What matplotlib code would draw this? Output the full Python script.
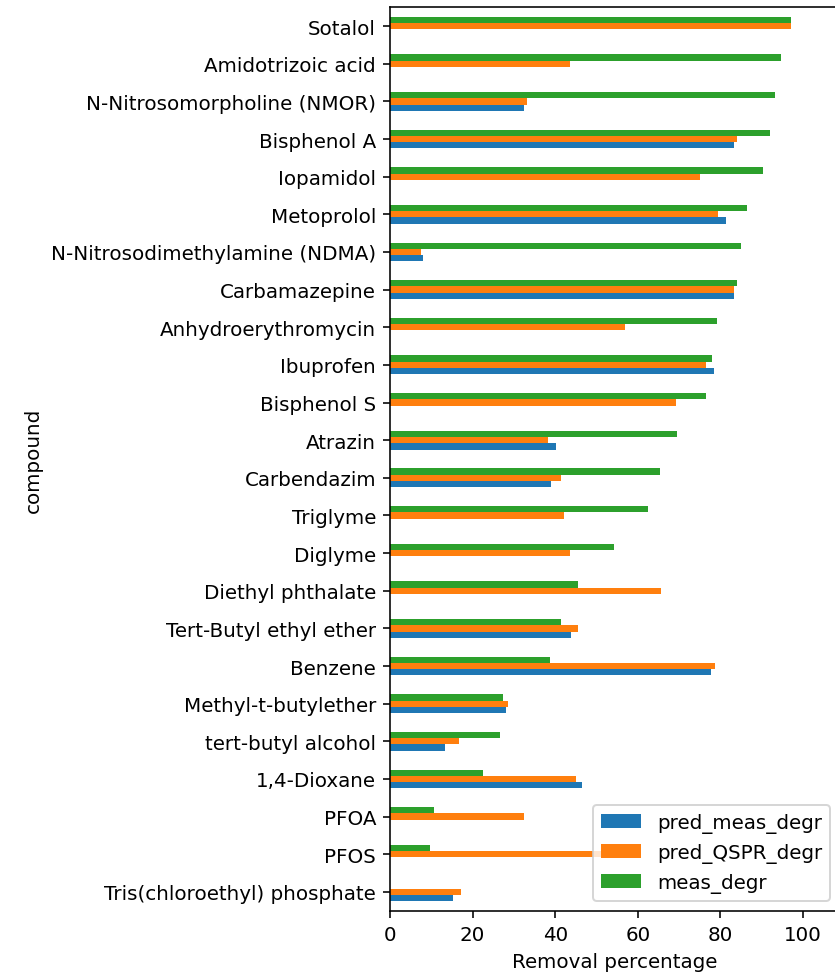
import numpy as np
import pandas as pd
import matplotlib
matplotlib.use("Agg")
import matplotlib.pyplot as plt

# Compounds listed from top of the chart to bottom
compounds = [
    "Sotalol", "Amidotrizoic acid", "N-Nitrosomorpholine (NMOR)", "Bisphenol A",
    "Iopamidol", "Metoprolol", "N-Nitrosodimethylamine (NDMA)", "Carbamazepine",
    "Anhydroerythromycin", "Ibuprofen", "Bisphenol S", "Atrazin", "Carbendazim",
    "Triglyme", "Diglyme", "Diethyl phthalate", "Tert-Butyl ethyl ether", "Benzene",
    "Methyl-t-butylether", "tert-butyl alcohol", "1,4-Dioxane", "PFOA", "PFOS",
    "Tris(chloroethyl) phosphate",
]

nan = np.nan
pred_meas_degr = [
    nan, nan, 32.5, 83.2, nan, 81.4, 8.1, 83.2, nan, 78.5, nan, 40.2, 39.0,
    nan, nan, nan, 43.8, 77.8, 28.2, 13.3, 46.6, nan, nan, 15.3,
]
pred_QSPR_degr = [
    97.0, 43.5, 33.2, 83.9, 75.0, 79.4, 7.4, 83.3, 56.9, 76.4, 69.3, 38.2, 41.4,
    42.2, 43.5, 65.5, 45.4, 78.8, 28.5, 16.8, 45.0, 32.4, 56.0, 17.3,
]
meas_degr = [
    97.0, 94.7, 93.1, 92.1, 90.4, 86.5, 84.9, 84.1, 79.1, 77.9, 76.6, 69.6, 65.4,
    62.4, 54.3, 45.4, 41.4, 38.7, 27.3, 26.6, 22.5, 10.7, 9.7, nan,
]

df = pd.DataFrame(
    {
        "pred_meas_degr": pred_meas_degr[::-1],
        "pred_QSPR_degr": pred_QSPR_degr[::-1],
        "meas_degr": meas_degr[::-1],
    },
    index=pd.Index(compounds[::-1], name="compound"),
)

DPI = 143.5
W, H = 835, 977
fig = plt.figure(figsize=(W / DPI, H / DPI), dpi=DPI)
left_px, right_px, top_px, bottom_px = 390, 840.2, 8.3, 911.7
ax = fig.add_axes([left_px / W, 1 - bottom_px / H,
                   (right_px - left_px) / W, (bottom_px - top_px) / H])

df.plot.barh(ax=ax)
ax.set_xlim(0, 109)
ax.set_xlabel("Removal percentage")
ax.legend(loc="lower right")

fig.savefig("out.png", dpi=DPI)
